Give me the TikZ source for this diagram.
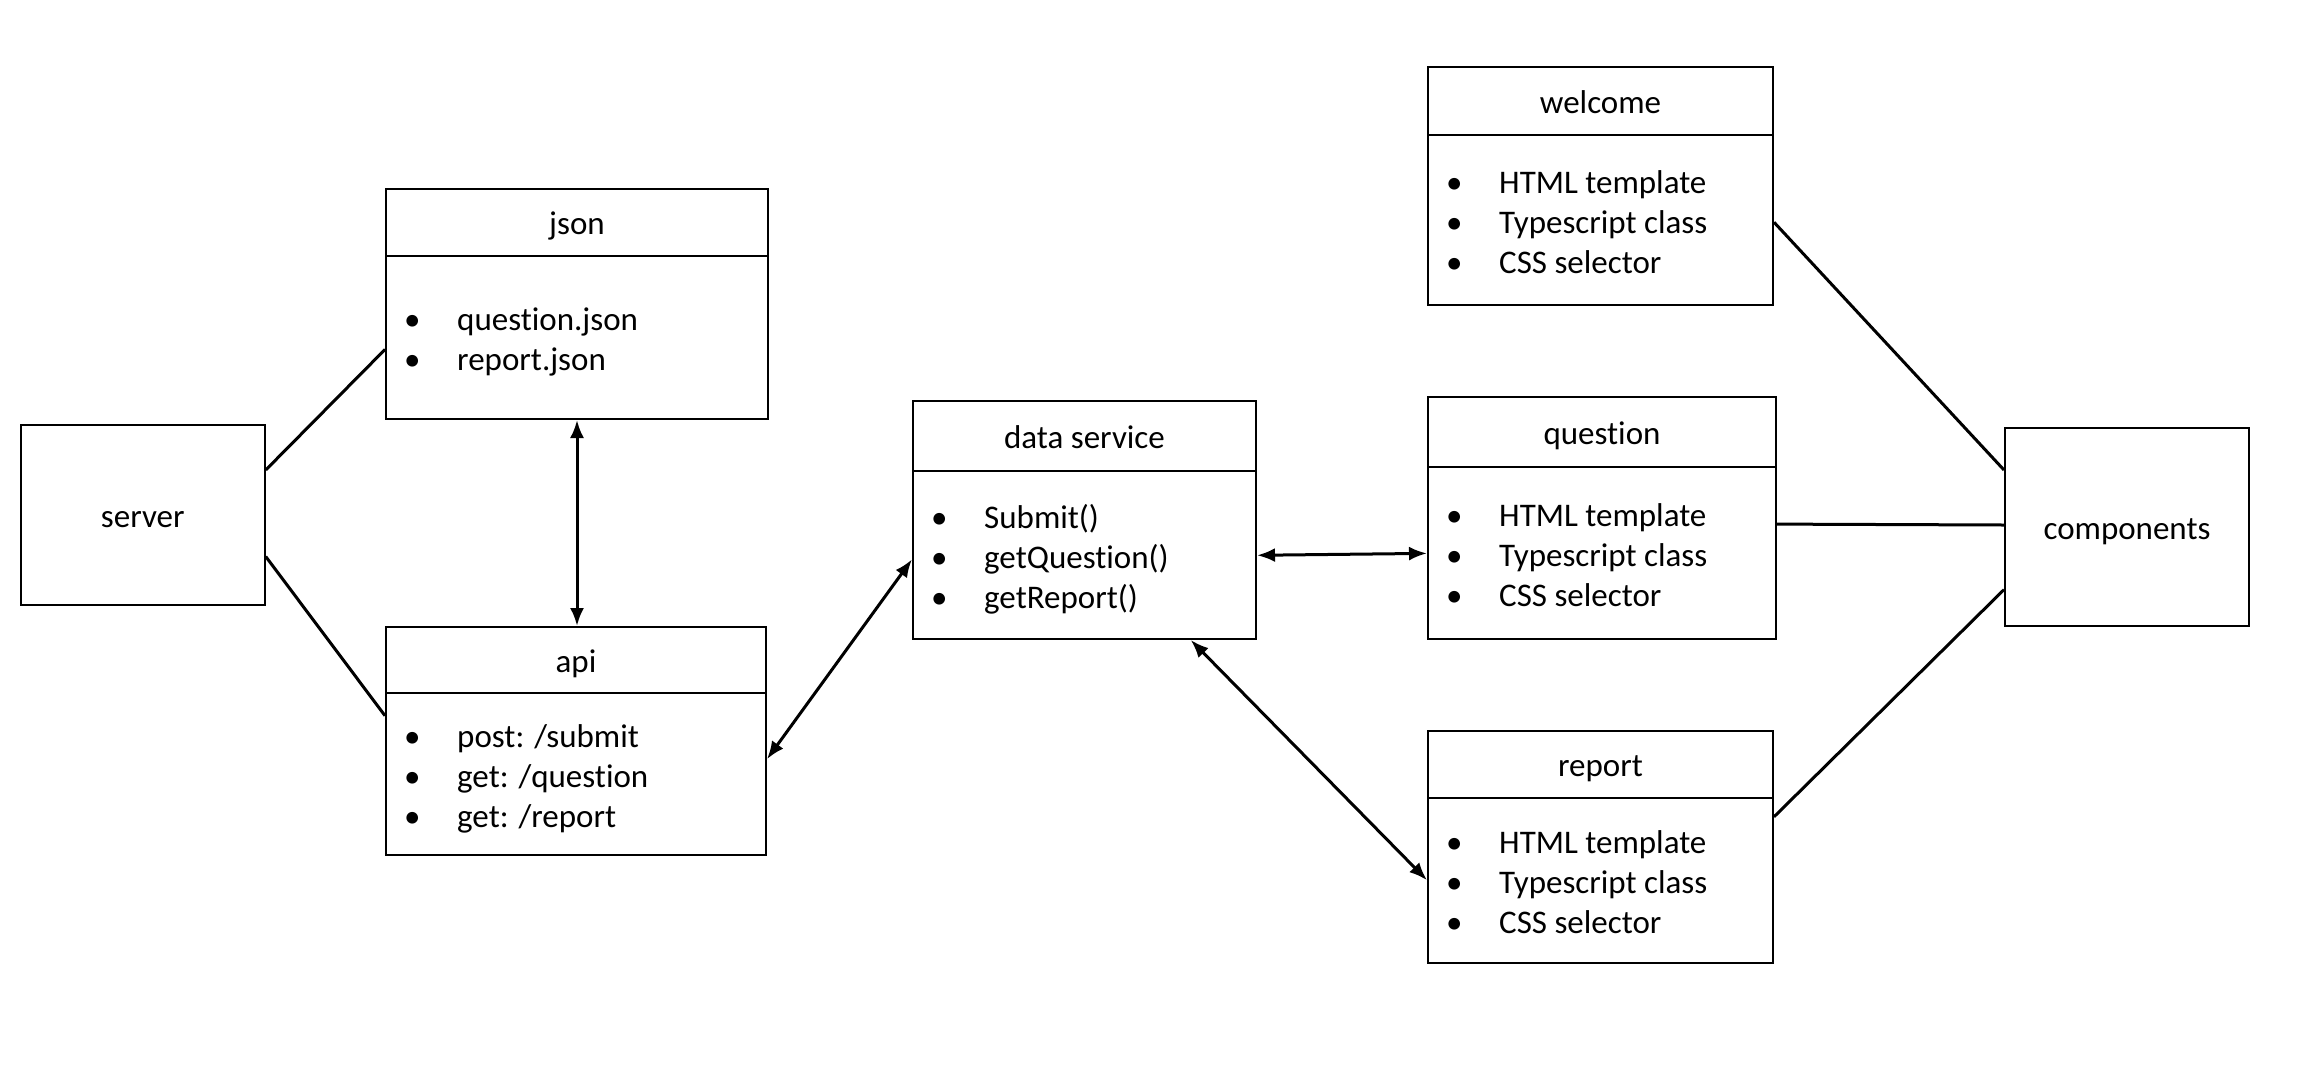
\documentclass[tikz,border=0pt]{standalone}
\usepackage{fontspec}
\setmainfont{Carlito}[Ligatures=NoCommon]
\usetikzlibrary{calc,arrows.meta}
\newcommand\itm[1]{\makebox[53pt][l]{\textbullet}\rule[-8pt]{0pt}{31pt}#1}
\newcommand\umlbox[8]{%
  \node[box, minimum width=#4pt, minimum height=#5pt] (#1) at (#2,#3) {};
  \draw[boxline] ($(#1.north west)+(0,#6)$) coordinate (#1-hl) -- ($(#1.north east)+(0,#6)$) coordinate (#1-hr);
  \node[ttl] (#1-title) at ($(#1.north)+(0,#6/2)$) {#7};
  \node[items] (#1-items) at ($(#1-hl)!0.5!(#1.south west)+(19,0)$) {#8};
}
\begin{document}
\begin{tikzpicture}[x=1pt,y=-1pt,
  box/.style={draw, line width=2pt, rectangle, inner sep=0pt},
  boxline/.style={line width=2pt},
  ttl/.style={font=\fontsize{33}{40}\selectfont, inner sep=0pt, text height=23pt, text depth=8pt, yshift=-5pt},
  items/.style={font=\fontsize{33}{40}\selectfont, align=left, inner sep=0pt, anchor=west, yshift=-5pt},
  plain/.style={draw, line width=2pt, rectangle, inner sep=0pt, font=\fontsize{33}{40}\selectfont},
  conn/.style={line width=3pt},
  biarrow/.style={line width=3pt, {Latex[length=18pt,width=14pt]}-{Latex[length=18pt,width=14pt]}}]
\useasboundingbox[fill=white] (0,0) rectangle (2320,1074);

\node[plain, minimum width=244pt, minimum height=180.6pt] (server) at (142.75,514.9) {};
\node[inner sep=0pt, font=\fontsize{33}{40}\selectfont, text height=23pt, text depth=8pt, yshift=-5pt] (server-t) at (server.center) {server};
\node[plain, minimum width=244pt, minimum height=198pt] (comp) at (2127,527) {};
\node[inner sep=0pt, font=\fontsize{33}{40}\selectfont, text height=23pt, text depth=8pt, yshift=-5pt] (comp-t) at (comp.center) {components};

\umlbox{json}{577}{304}{382}{230}{68}{json}{\itm{question.json}\\\itm{report.json}}
\umlbox{api}{576}{741}{380}{228}{67}{api}{\itm{post: /submit}\\\itm{get: /question}\\\itm{get: /report}}
\umlbox{data}{1084.5}{520}{343}{238}{71}{data service}{\itm{Submit()}\\\itm{getQuestion()}\\\itm{getReport()}}
\umlbox{welcome}{1600.5}{186}{345}{238}{69}{welcome}{\itm{HTML template}\\\itm{Typescript class}\\\itm{CSS selector}}
\umlbox{question}{1602}{518}{348}{242}{71}{question}{\itm{HTML template}\\\itm{Typescript class}\\\itm{CSS selector}}
\umlbox{report}{1600.5}{847}{345}{232}{68}{report}{\itm{HTML template}\\\itm{Typescript class}\\\itm{CSS selector}}

\draw[conn] ($(server.north east)!0.254!(server.south east)$) -- ($(json.north west)!0.696!(json.south west)$);
\draw[conn] ($(server.north east)!0.728!(server.south east)$) -- ($(api.north west)!0.39!(api.south west)$);
\draw[biarrow] (json.south) -- (json.south |- api.north);
\draw[biarrow] ($(api.north east)!0.579!(api.south east)$) -- ($(data.north west)!0.664!(data.south west)$);
\draw[biarrow] ($(data.north east)!0.647!(data.south east)$) -- ($(question.north west)!0.645!(question.south west)$);
\draw[biarrow] ($(data.south west)!0.808!(data.south east)$) -- ($(report.north west)!0.642!(report.south west)$);
\draw[conn] ($(welcome.north east)!0.651!(welcome.south east)$) -- ($(comp.north west)!0.215!(comp.south west)$);
\draw[conn] ($(question.north east)!0.525!(question.south east)$) -- ($(comp.north west)!0.49!(comp.south west)$);
\draw[conn] ($(report.north east)!0.371!(report.south east)$) -- ($(comp.north west)!0.813!(comp.south west)$);
\end{tikzpicture}
\end{document}
